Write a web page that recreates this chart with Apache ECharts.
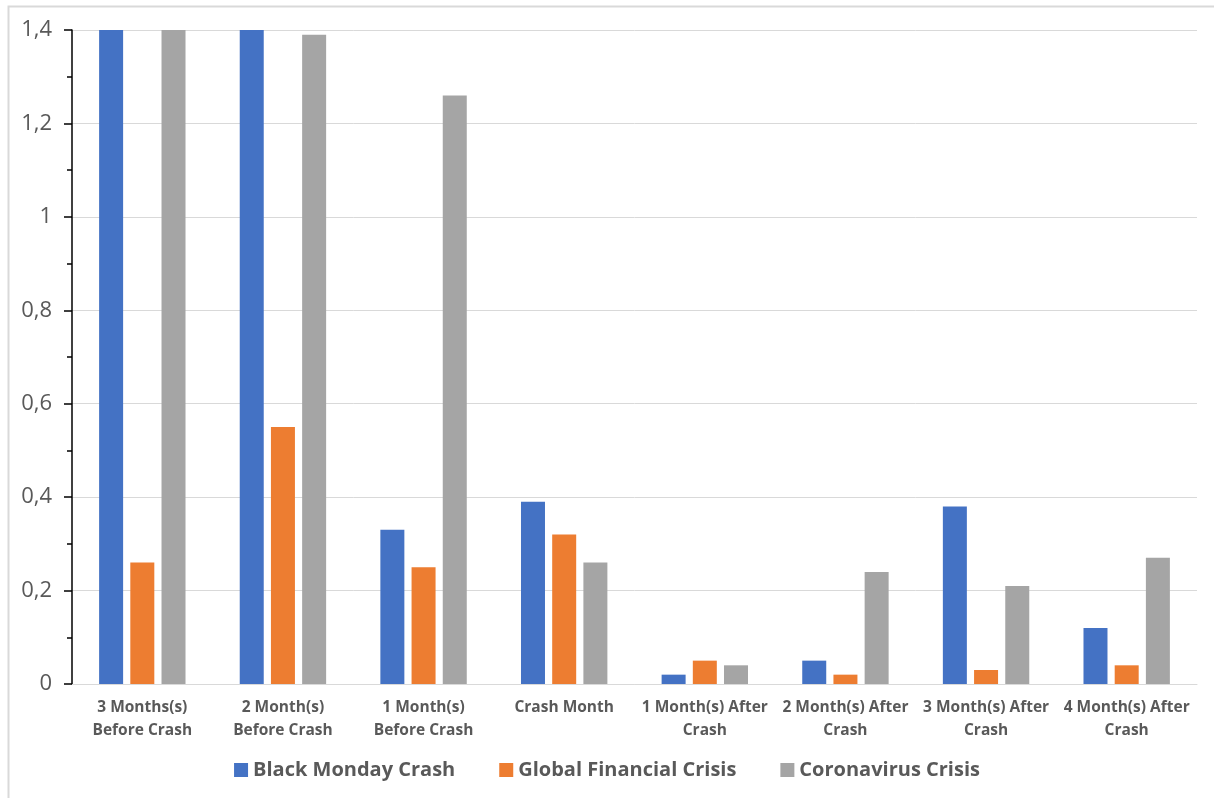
<!DOCTYPE html>
<html>
<head>
<meta charset="utf-8">
<script src="https://cdn.jsdelivr.net/npm/echarts@6/dist/echarts.min.js"></script>
<style>
  html, body { margin: 0; padding: 0; background: #fff; }
  #container { width: 1214px; height: 798px; }
</style>
</head>
<body>
<div id="container"></div>
<script>
let categories = [
  "3 Months(s)\nBefore Crash",
  "2 Month(s)\nBefore Crash",
  "1 Month(s)\nBefore Crash",
  "Crash Month",
  "1 Month(s) After\nCrash",
  "2 Month(s) After\nCrash",
  "3 Month(s) After\nCrash",
  "4 Month(s) After\nCrash",
];
let blackMonday = [1.4, 1.4, 0.33, 0.39, 0.02, 0.05, 0.38, 0.12];
let globalFinancial = [0.26, 0.55, 0.25, 0.32, 0.05, 0.02, 0.03, 0.04];
let coronavirus = [1.4, 1.39, 1.26, 0.26, 0.04, 0.24, 0.21, 0.27];

let dom = document.getElementById("container");
let myChart = echarts.init(dom, null, { renderer: "canvas" });

let font = "'Open Sans', sans-serif";
let textColor = "#595959";

let option = {
  animation: false,
  graphic: [
    {
      type: "rect",
      shape: { x: 8.5, y: 6.5, width: 1300, height: 900 },
      style: { fill: "none", stroke: "#d9d9d9", lineWidth: 2 },
      silent: true,
    },
  ],
  grid: { left: 72, right: 17, top: 30, bottom: 114 },
  legend: {
    bottom: 13,
    left: "center",
    itemWidth: 14,
    itemHeight: 14,
    itemGap: 44,
    icon: "rect",
    textStyle: { color: textColor, fontFamily: font, fontSize: 20, fontWeight: "bold" },
  },
  xAxis: {
    type: "category",
    data: categories,
    axisLine: { lineStyle: { color: "#d9d9d9", width: 1 } },
    axisTick: { show: false },
    axisLabel: {
      interval: 0,
      color: textColor,
      fontFamily: font,
      fontSize: 15.5,
      fontWeight: "bold",
      lineHeight: 23,
      margin: 12,
    },
  },
  yAxis: {
    type: "value",
    min: 0,
    max: 1.4,
    interval: 0.2,
    axisLine: { show: true, lineStyle: { color: "#000", width: 1.5 } },
    axisTick: { show: true, length: 8, lineStyle: { color: "#000", width: 1.5 } },
    minorTick: { show: true, splitNumber: 2, length: 5, lineStyle: { color: "#000", width: 1.5 } },
    splitLine: { lineStyle: { color: "#d9d9d9", width: 1 } },
    axisLabel: {
      color: textColor,
      fontFamily: font,
      fontSize: 22,
      margin: 20,
      formatter: (v) => String(Math.round(v * 10) / 10).replace(".", ","),
    },
  },
  series: [
    {
      name: "Black Monday Crash",
      type: "bar",
      data: blackMonday,
      itemStyle: { color: "#4472c4" },
      barWidth: 24,
      barGap: "30%",
    },
    {
      name: "Global Financial Crisis",
      type: "bar",
      data: globalFinancial,
      itemStyle: { color: "#ed7d31" },
      barWidth: 24,
      barGap: "30%",
    },
    {
      name: "Coronavirus Crisis",
      type: "bar",
      data: coronavirus,
      itemStyle: { color: "#a5a5a5" },
      barWidth: 24,
      barGap: "30%",
    },
  ],
};

myChart.setOption(option);
window.addEventListener("resize", myChart.resize);
</script>
</body>
</html>
